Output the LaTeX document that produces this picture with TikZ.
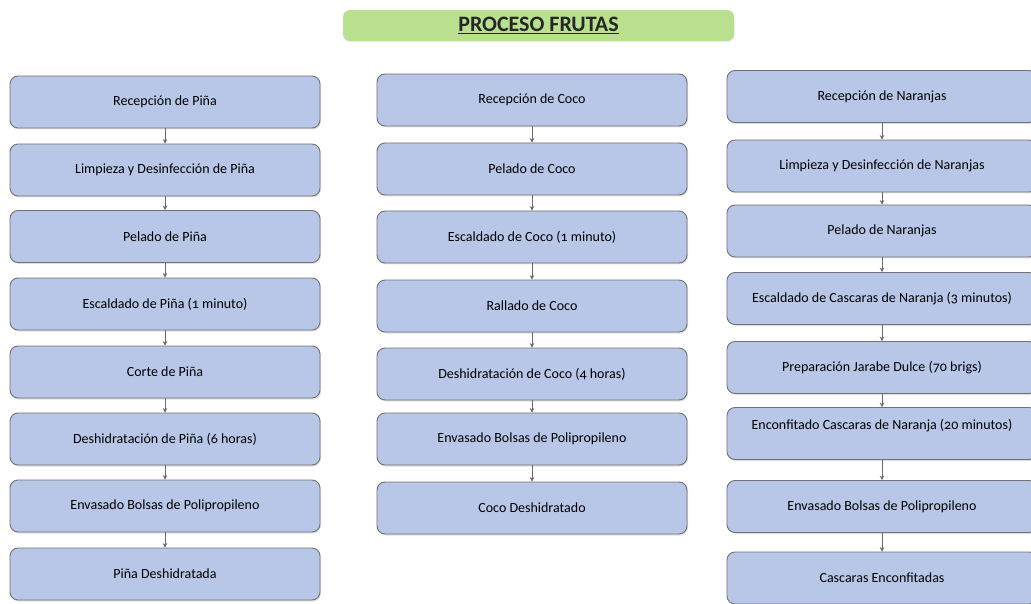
\documentclass[tikz,border=0pt]{standalone}
\usepackage{fontspec}
\setmainfont{Carlito}[Numbers=OldStyle]
\usetikzlibrary{arrows.meta,shadows}
\definecolor{cajaazul}{HTML}{B8C7E7}
\definecolor{bordecaja}{HTML}{727272}
\definecolor{verdetitulo}{HTML}{B9E08F}
\definecolor{grisflecha}{HTML}{6A6A6A}
\tikzset{
  paso/.style={draw=bordecaja, line width=0.9pt, fill=cajaazul, rounded corners=8pt,
    minimum width=310pt, minimum height=52pt, inner sep=0pt,
    font=\fontsize{14}{16}\selectfont,
    drop shadow={opacity=0.25, shadow xshift=1pt, shadow yshift=-1.5pt}},
  titulo/.style={fill=verdetitulo, rounded corners=7pt, minimum width=391pt,
    minimum height=31pt, inner sep=0pt, font=\fontsize{22}{24}\selectfont\bfseries,
    text=black!85, drop shadow={opacity=0.15, shadow xshift=0.5pt, shadow yshift=-1pt}},
  flecha/.style={draw=grisflecha, line width=0.7pt, -{Stealth[length=4.5pt,width=4.5pt]}},
}
\begin{document}
\begin{tikzpicture}[x=1pt,y=-1pt]
  \useasboundingbox (0,0) rectangle (1031,604);
  \node[titulo] (tit) at (538.5,25.5) {\underline{PROCESO FRUTAS}};
  % columna pina
  \foreach \i/\y/\t in {1/102/{Recepción de Piña}, 2/170/{Limpieza y Desinfección de Piña},
                        3/236.5/{Pelado de Piña}, 4/304/{Escaldado de Piña (1 minuto)},
                        5/372/{Corte de Piña}, 6/439/{Deshidratación de Piña (6 horas)},
                        7/506/{Envasado Bolsas de Polipropileno}, 8/574/{Piña Deshidratada}}
    {\node[paso] (p\i) at (165,\y) {\t};}
  % columna coco
  \foreach \i/\y/\t in {1/100/{Recepción de Coco}, 2/169/{Pelado de Coco},
                        3/237/{Escaldado de Coco (1 minuto)}, 4/306/{Rallado de Coco},
                        5/374/{Deshidratación de Coco (4 horas)},
                        6/439/{Envasado Bolsas de Polipropileno}, 7/508/{Coco Deshidratado}}
    {\node[paso] (c\i) at (532,\y) {\t};}
  % columna naranjas
  \foreach \i/\y/\t in {1/96.5/{Recepción de Naranjas}, 2/166/{Limpieza y Desinfección de Naranjas},
                        3/231/{Pelado de Naranjas}, 4/298.5/{Escaldado de Cascaras de Naranja (3 minutos)},
                        5/367.5/{Preparación Jarabe Dulce (70 brigs)},
                        6/433.5/{\raisebox{4pt}[0pt][0pt]{Enconfitado Cascaras de Naranja (20 minutos)}},
                        7/506.5/{Envasado Bolsas de Polipropileno}, 8/578/{Cascaras Enconfitadas}}
    {\node[paso] (n\i) at (882,\y) {\t};}
  % flechas
  \foreach \a [count=\b from 2] in {1,...,7}
    {\draw[flecha] (p\a) -- (p\b);
     \draw[flecha] (n\a) -- (n\b);}
  \foreach \a [count=\b from 2] in {1,...,6}
    {\draw[flecha] (c\a) -- (c\b);}
\end{tikzpicture}
\end{document}
